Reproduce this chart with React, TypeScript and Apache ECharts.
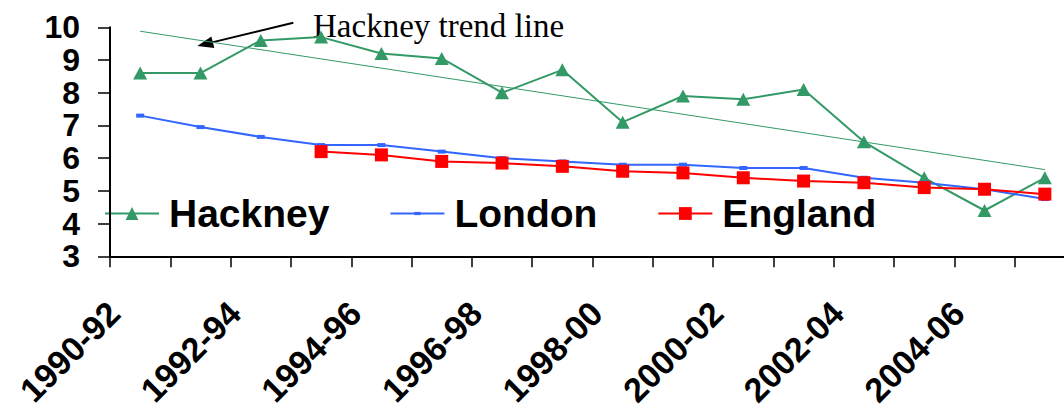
import { useEffect, useRef } from 'react';
import * as echarts from 'echarts';

const categories = [
  '1990-92', '1991-93', '1992-94', '1993-95', '1994-96', '1995-97', '1996-98', '1997-99',
  '1998-00', '1999-01', '2000-02', '2001-03', '2002-04', '2003-05', '2004-06', '2005-07',
];
const hackney = [8.6, 8.6, 9.6, 9.7, 9.2, 9.05, 8.0, 8.7, 7.1, 7.9, 7.8, 8.1, 6.5, 5.4, 4.4, 5.4];
const london = [7.3, 6.95, 6.65, 6.4, 6.4, 6.2, 6.0, 5.9, 5.8, 5.8, 5.7, 5.7, 5.4, 5.25, 5.05, 4.75];
const england = [null, null, null, 6.2, 6.1, 5.9, 5.85, 5.75, 5.6, 5.55, 5.4, 5.3, 5.25, 5.1, 5.05, 4.9];
const trendEnds = [9.88, 5.65];
const yMin = 3;
const yMax = 10;
const yInterval = 1;

const FONT = "'Liberation Sans', Arial, sans-serif";
const GREEN = '#339966';
const BLUE = '#3366FF';
const RED = '#FF0000';
const LONDON_SYMBOL = 'path://M0,0M3,4.5h6v3h-6zM12,12';
const GRID_LEFT = 110;

export default function App() {
  const ref = useRef<HTMLDivElement>(null);
  useEffect(() => {
    const chart = echarts.init(ref.current!, undefined, { renderer: 'svg' });
    chart.setOption({
      animation: false,
      grid: { left: GRID_LEFT, top: 27.3, right: -11, height: 229, containLabel: false, outerBoundsMode: 'none' },
      legend: {
        data: ['Hackney', 'London', 'England'],
        left: 104,
        top: 194,
        padding: 0,
        itemWidth: 54,
        itemHeight: 16,
        itemGap: 60,
        textStyle: {
          fontFamily: FONT,
          fontWeight: 'bold',
          fontSize: 39,
          color: '#000',
          padding: [0, 0, 0, 5],
        },
      },
      xAxis: {
        type: 'category',
        data: categories,
        boundaryGap: true,
        axisLine: { onZero: false, lineStyle: { color: '#000', width: 2 } },
        axisTick: { show: true, interval: 0, length: 11, lineStyle: { color: '#000', width: 1.5 } },
        axisLabel: {
          interval: 1,
          rotate: 45,
          margin: 25,
          fontSize: 34,
          fontWeight: 'bold',
          fontFamily: FONT,
          color: '#000',
          padding: [0, 37, 0, 0],
        },
      },
      yAxis: {
        type: 'value',
        position: 'left',
        min: yMin,
        max: yMax,
        interval: yInterval,
        axisLine: { show: true, onZero: false, lineStyle: { color: '#000', width: 2 } },
        axisTick: { show: true, length: 12, lineStyle: { color: '#000', width: 1.5 } },
        splitLine: { show: false },
        axisLabel: {
          margin: 30,
          fontSize: 32,
          lineHeight: 30,
          fontWeight: 'bold',
          fontFamily: FONT,
          color: '#000',
          showMinLabel: true,
          showMaxLabel: true,
        },
      },
      series: [
        {
          name: 'Hackney',
          type: 'line',
          data: hackney,
          symbol: 'triangle',
          symbolSize: [14, 13],
          itemStyle: { color: GREEN },
          lineStyle: { color: GREEN, width: 2 },
          markLine: {
            silent: true,
            symbol: ['none', 'none'],
            label: { show: false },
            lineStyle: { color: GREEN, width: 1, type: 'solid' },
            data: [[
              { coord: [categories[0], trendEnds[0]] },
              { coord: [categories[categories.length - 1], trendEnds[1]] },
            ]],
          },
        },
        {
          name: 'London',
          type: 'line',
          data: london,
          symbol: LONDON_SYMBOL,
          symbolSize: 16,
          itemStyle: { color: BLUE },
          lineStyle: { color: BLUE, width: 2 },
        },
        {
          name: 'England',
          type: 'line',
          data: england,
          symbol: 'rect',
          symbolSize: 13,
          itemStyle: { color: RED },
          lineStyle: { color: RED, width: 2 },
        },
      ],
      graphic: [
        {
          type: 'text',
          x: 313,
          y: 26,
          style: {
            text: 'Hackney trend line',
            font: "33px 'Liberation Serif', 'Times New Roman', serif",
            fill: '#000',
            verticalAlign: 'middle',
          },
        },
        {
          type: 'line',
          shape: { x1: 293.3, y1: 22.7, x2: 212, y2: 42.4 },
          style: { stroke: '#000', lineWidth: 2 },
        },
        {
          type: 'polygon',
          shape: { points: [[197.3, 46], [214.3, 48.1], [211.4, 36.4]] },
          style: { fill: '#000' },
        },
      ],
    });
    // vertical value-axis line, positioned from the axis scale
    const yTop = chart.convertToPixel({ yAxisIndex: 0 }, yMax) as number;
    const yBottom = chart.convertToPixel({ yAxisIndex: 0 }, yMin) as number;
    if (isFinite(yTop) && isFinite(yBottom)) {
      chart.setOption({
        graphic: [
          {
            id: 'yAxisLine',
            type: 'line',
            z: 10,
            shape: { x1: GRID_LEFT, y1: yTop, x2: GRID_LEFT, y2: yBottom },
            style: { stroke: '#000', lineWidth: 2 },
          },
        ],
      });
    }
    return () => chart.dispose();
  }, []);
  return <div ref={ref} style={{ position: 'absolute', left: 0, top: 0, width: 1064, height: 416 }} />;
}
